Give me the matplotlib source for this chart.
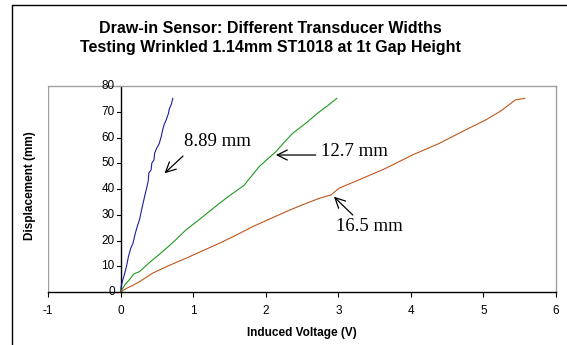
import matplotlib.pyplot as plt
from matplotlib.lines import Line2D

# induced voltage (V) vs displacement (mm) for each transducer width
v_889 = [0.0, 0.01, 0.03, 0.05, 0.08, 0.11, 0.14, 0.17, 0.20, 0.23, 0.26, 0.29,
         0.31, 0.33, 0.36, 0.38, 0.39, 0.42, 0.43, 0.46, 0.47, 0.50, 0.53,
         0.56, 0.58, 0.60, 0.63, 0.66, 0.67, 0.70, 0.72]
d_889 = [0.0, 2.5, 4.7, 6.5, 9.8, 14.0, 17.0, 18.9, 22.5, 25.5, 28.0, 32.0,
         34.5, 37.0, 40.5, 43.0, 46.3, 47.4, 50.0, 51.3, 54.0, 56.0, 57.5,
         60.3, 63.0, 65.0, 67.0, 69.4, 71.0, 73.0, 75.2]

v_127 = [0.0, 0.03, 0.07, 0.12, 0.18, 0.26, 0.40, 0.58, 0.75, 0.90, 1.10, 1.36,
         1.52, 1.68, 1.70, 1.91, 2.02, 2.14, 2.25, 2.37, 2.55, 2.74, 2.86, 2.98]
d_127 = [0.0, 1.4, 3.2, 4.7, 7.0, 7.9, 11.5, 15.7, 20.0, 24.1, 28.5, 34.4,
         37.8, 41.0, 41.4, 48.7, 51.5, 54.5, 58.0, 61.6, 65.5, 70.0, 72.5, 75.2]

v_165 = [0.0, 0.08, 0.17, 0.26, 0.44, 0.66, 0.90, 1.13, 1.36, 1.60, 1.82, 2.05,
         2.28, 2.50, 2.74, 2.90, 3.01, 3.33, 3.65, 4.02, 4.39, 4.75, 5.03,
         5.25, 5.44, 5.57]
d_165 = [0.0, 1.4, 2.6, 4.0, 7.3, 10.2, 13.1, 16.0, 18.9, 22.2, 25.4, 28.3,
         31.2, 33.8, 36.4, 37.7, 40.3, 44.1, 48.0, 53.2, 57.7, 62.9, 66.8,
         70.5, 74.6, 75.2]

x_ticks = [-1, 0, 1, 2, 3, 4, 5, 6]
y_ticks = [0, 10, 20, 30, 40, 50, 60, 70, 80]

plt.rcParams["axes.unicode_minus"] = False

fig = plt.figure(figsize=(5.67, 3.45), dpi=100)
ax = fig.add_axes([0.0847, 0.1536, 0.8959, 0.5971])

ax.plot(v_889, d_889, color="#1c1c9c", lw=0.8)
ax.plot(v_127, d_127, color="#1f9a1f", lw=0.8)
ax.plot(v_165, d_165, color="#c0561c", lw=0.8)

ax.set_xlim(-1, 6)
ax.set_ylim(0, 80)
ax.set_xticks(x_ticks)
ax.set_yticks(y_ticks)

# gray plot-area frame, black axes crossing at the origin
for side in ("top", "right", "left"):
    ax.spines[side].set_color("#a0a0a0")
    ax.spines[side].set_linewidth(1.0)
ax.spines["left"].set_visible(False)
ax.axvline(-1, color="#a0a0a0", lw=1.0)
ax.spines["bottom"].set_color("black")
ax.spines["bottom"].set_linewidth(1.0)
ax.axvline(0, color="black", lw=1.0, zorder=1)

ax.tick_params(axis="x", direction="out", length=3.5, width=0.8,
               labelsize=8.5, pad=6)
ax.tick_params(axis="y", length=0, labelleft=False)
for y in y_ticks:
    ax.plot([-0.05, 0], [y, y], color="black", lw=0.8, clip_on=False)
    ax.text(-0.08, y, str(y), ha="right", va="center", fontsize=8.5,
            family="Liberation Sans")
for lab in ax.get_xticklabels():
    lab.set_family("Liberation Sans")

ax.set_xlabel("Induced Voltage (V)", fontsize=8.5, fontweight="bold",
              family="Liberation Sans", labelpad=7)
fig.text(30 / 567, 1 - 186 / 345, "Displacement (mm)", rotation=90,
         ha="center", va="center", fontsize=8.5, fontweight="bold",
         family="Liberation Sans")

fig.text(270 / 567, 1 - 38 / 345,
         "Draw-in Sensor: Different Transducer Widths\n"
         "Testing Wrinkled 1.14mm ST1018 at 1t Gap Height",
         ha="center", va="center", fontsize=11.5, fontweight="bold",
         family="Liberation Sans", linespacing=1.3)

arrow = dict(arrowstyle="->", color="black", lw=0.9, mutation_scale=18,
             shrinkA=0, shrinkB=0)
serif = dict(fontsize=13.5, family="Liberation Serif", va="center")
ax.text(0.88, 58.3, "8.89 mm", ha="left", **serif)
ax.annotate("", xy=(0.605, 46.1), xytext=(0.86, 52.8), arrowprops=arrow)
ax.text(2.76, 54.5, "12.7 mm", ha="left", **serif)
ax.annotate("", xy=(2.14, 53.2), xytext=(2.69, 53.2), arrowprops=arrow)
ax.text(2.97, 25.4, "16.5 mm", ha="left", **serif)
ax.annotate("", xy=(2.94, 37.0), xytext=(3.2, 29.9), arrowprops=arrow)

# chart frame (left and top edges)
fig.add_artist(Line2D([12 / 567, 12 / 567, 1.0], [0.0, 1 - 5 / 345, 1 - 5 / 345],
                      transform=fig.transFigure, color="black", lw=1.0))

fig.savefig("out.png", dpi=100)
